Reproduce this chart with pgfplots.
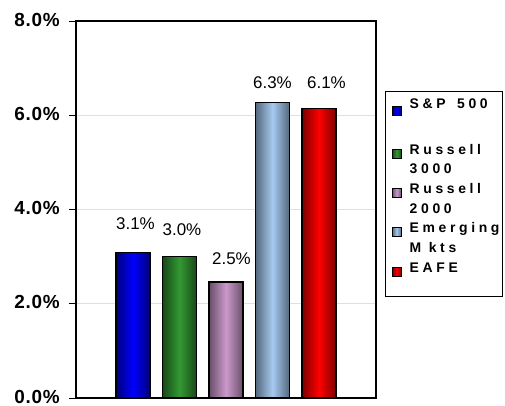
\documentclass[border=0pt]{standalone}
\usepackage{fontspec}
\setmainfont{Liberation Sans}
\newfontfamily\legfont[LetterSpace=26]{Liberation Sans}
\newfontfamily\tickfont[LetterSpace=4]{Liberation Sans}
\usepackage{pgfplots}
\pgfplotsset{compat=1.18}

\definecolor{spblue}{RGB}{0,0,255}
\definecolor{spbluedk}{RGB}{0,0,120}
\definecolor{rgreen}{RGB}{51,153,51}
\definecolor{rgreendk}{RGB}{24,72,24}
\definecolor{rpink}{RGB}{204,153,204}
\definecolor{rpinkdk}{RGB}{105,78,105}
\definecolor{emblue}{RGB}{166,202,240}
\definecolor{embluedk}{RGB}{84,104,125}
\definecolor{eafered}{RGB}{255,0,0}
\definecolor{eaferddk}{RGB}{125,0,0}

\begin{document}
\begin{tikzpicture}
\begin{axis}[
    at={(0,0)}, anchor=south west,
    scale only axis,
    width=300bp, height=377bp,
    xmin=-0.226, xmax=6.226,
    ymin=0, ymax=8,
    ybar, bar width=34bp,
    xtick=\empty,
    ytick={0,2,4,6,8},
    yticklabels={0.0\%,2.0\%,4.0\%,6.0\%,8.0\%},
    yticklabel style={font=\tickfont\bfseries\fontsize{19}{19}\selectfont,
        xshift=-9bp, yshift=1.5bp, inner sep=0pt},
    ytick pos=left,
    tick align=outside,
    major tick length=7bp,
    tick style={black, line width=1pt},
    ymajorgrids,
    grid style={black!12, line width=1pt},
    axis line style={black, line width=1.3pt},
    /pgf/number format/assume math mode=true,
    nodes near coords={\pgfmathprintnumber[fixed,fixed zerofill,precision=1]{\pgfplotspointmeta}\%},
    nodes near coords style={font=\fontsize{17}{17}\selectfont, anchor=center, black},
    legend style={at={(rel axis cs:1.03,0.814)}, anchor=north west,
        draw=black, line width=1.2pt, inner xsep=1bp, inner ysep=1bp,
        font=\legfont\bfseries\fontsize{14}{20}\selectfont,
        cells={anchor=base west, align=left, inner xsep=0pt, inner ysep=0pt},
        row sep=0pt, column sep=6bp},
    legend cell align=left,
    legend image code/.code={\path (0bp,0bp);
        \draw[#1, draw=black, line width=1pt] (5bp,-0.5bp) rectangle (14bp,8.5bp);},
]
\addplot[bar shift=0pt, left color=spbluedk, right color=spbluedk, middle color=spblue, draw=black, line width=1.3pt,
    every node near coord/.append style={xshift=2.5bp, yshift=28.8bp}]
    coordinates {(1,3.09)};
\addplot[bar shift=0pt, left color=rgreendk, right color=rgreendk, middle color=rgreen, draw=black, line width=1.3pt,
    every node near coord/.append style={xshift=2.5bp, yshift=26.5bp}]
    coordinates {(2,3.01)};
\addplot[bar shift=0pt, left color=rpinkdk, right color=rpinkdk, middle color=rpink, draw=black, line width=1.3pt,
    every node near coord/.append style={xshift=5.5bp, yshift=23.3bp}]
    coordinates {(3,2.46)};
\addplot[bar shift=0pt, left color=embluedk, right color=embluedk, middle color=emblue, draw=black, line width=1.3pt,
    every node near coord/.append style={xshift=0bp, yshift=19.6bp}]
    coordinates {(4,6.27)};
\addplot[bar shift=0pt, left color=eaferddk, right color=eaferddk, middle color=eafered, draw=black, line width=1.3pt,
    every node near coord/.append style={xshift=7.5bp, yshift=25.6bp}]
    coordinates {(5,6.14)};
\legend{S\&P\hspace{4bp} 500\strut\\[6bp]\strut, Russell\strut\\3000\strut, Russell\strut\\2000\strut, Emerging\strut\\M kts\strut, EAFE\strut\\\strut}
\end{axis}
\pgfresetboundingbox
\useasboundingbox (-76bp,-8bp) rectangle (429bp,398bp);
\end{tikzpicture}
\end{document}
